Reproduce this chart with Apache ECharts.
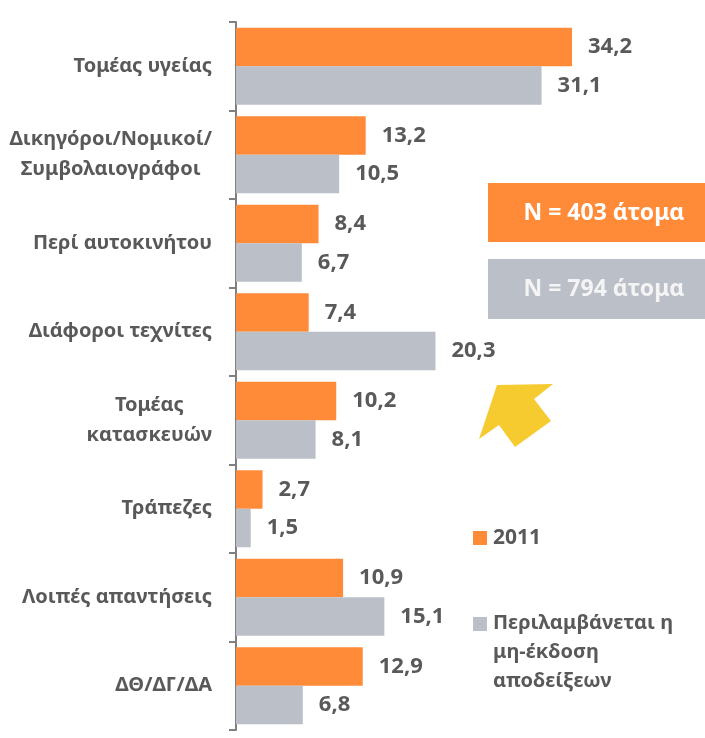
<!DOCTYPE html>
<html>
<head>
<meta charset="utf-8">
<script src="https://cdn.jsdelivr.net/npm/echarts@6/dist/echarts.min.js"></script>
<style>
  html, body { margin: 0; padding: 0; background: #fff; }
  #main { width: 705px; height: 738px; }
</style>
</head>
<body>
<div id="main"></div>
<script>
var orange = '#FF8B38';
var grey = '#BBBFC8';
var textColor = '#595959';
var font = 'Noto Sans';

var categories = [
    'Τομέας υγείας',
    'Δικηγόροι/Νομικοί/\nΣυμβολαιογράφοι',
    'Περί αυτοκινήτου',
    'Διάφοροι τεχνίτες',
    'Τομέας\nκατασκευών',
    'Τράπεζες',
    'Λοιπές απαντήσεις',
    'ΔΘ/ΔΓ/ΔΑ'
];
var values2011 = [34.2, 13.2, 8.4, 7.4, 10.2, 2.7, 10.9, 12.9];
var valuesIncl = [31.1, 10.5, 6.7, 20.3, 8.1, 1.5, 15.1, 6.8];
var seriesNames = ['2011', 'Περιλαμβάνεται η\nμη-έκδοση\nαποδείξεων'];
var sampleNotes = ['N = 403 άτομα', 'N = 794 άτομα'];

function fmt(p) {
    return p.value.toFixed(1).replace('.', ',');
}

var myChart = echarts.init(document.getElementById('main'));

var valueLabel = {
    show: true,
    position: 'right',
    distance: 16,
    formatter: fmt,
    color: textColor,
    fontFamily: font,
    fontWeight: 'bold',
    fontSize: 22
};

var option = {
    backgroundColor: '#fff',
    animation: false,
    grid: {
        left: 236,
        top: 22,
        height: 708,
        right: 76
    },
    xAxis: {
        type: 'value',
        min: 0,
        max: 40,
        show: false
    },
    yAxis: {
        type: 'category',
        inverse: true,
        data: categories,
        axisLine: { show: true, lineStyle: { color: '#808080', width: 2 } },
        axisTick: { show: true, length: 7, lineStyle: { color: '#808080', width: 2 } },
        axisLabel: {
            margin: 24,
            formatter: function (v) {
                return v.split('\n').map(function (l) { return '{c|' + l + '}'; }).join('\n');
            },
            rich: {
                c: {
                    align: 'center',
                    color: textColor,
                    fontFamily: font,
                    fontWeight: 'bold',
                    fontSize: 20,
                    lineHeight: 30
                }
            }
        }
    },
    series: [{
        name: seriesNames[0],
        type: 'bar',
        data: values2011,
        barGap: 0,
        barCategoryGap: '13%',
        itemStyle: { color: orange },
        label: valueLabel
    }, {
        name: seriesNames[1],
        type: 'bar',
        data: valuesIncl,
        itemStyle: { color: grey },
        label: valueLabel
    }],
    graphic: [
        // sample size boxes
        { type: 'rect', shape: { x: 488, y: 183, width: 217, height: 59 }, style: { fill: orange } },
        { type: 'text', x: 604, y: 213, style: {
            text: sampleNotes[0], fill: '#fff', font: 'bold 23px "Noto Sans"',
            textAlign: 'center', textVerticalAlign: 'middle' } },
        { type: 'rect', shape: { x: 488, y: 259, width: 217, height: 60 }, style: { fill: grey } },
        { type: 'text', x: 604, y: 289, style: {
            text: sampleNotes[1], fill: '#F4F4F4', font: 'bold 23px "Noto Sans"',
            textAlign: 'center', textVerticalAlign: 'middle' } },
        // yellow arrow
        { type: 'polygon', shape: { points: [
            [497, 385], [553, 384], [534, 399], [551, 421], [515, 447], [499, 425], [479, 439]
        ] }, style: { fill: '#F5CB2F' } },
        // legend
        { type: 'rect', shape: { x: 473, y: 531, width: 14, height: 14 }, style: { fill: orange } },
        { type: 'text', x: 493, y: 538, style: {
            text: seriesNames[0], fill: textColor, font: 'bold 21px "Noto Sans"',
            textVerticalAlign: 'middle' } },
        { type: 'rect', shape: { x: 473, y: 617, width: 14, height: 14 }, style: { fill: grey } },
        { type: 'text', x: 493, y: 609, style: {
            text: seriesNames[1], fill: textColor, font: 'bold 20px "Noto Sans"',
            lineHeight: 29, textVerticalAlign: 'top' } }
    ]
};

myChart.setOption(option);
</script>
</body>
</html>
